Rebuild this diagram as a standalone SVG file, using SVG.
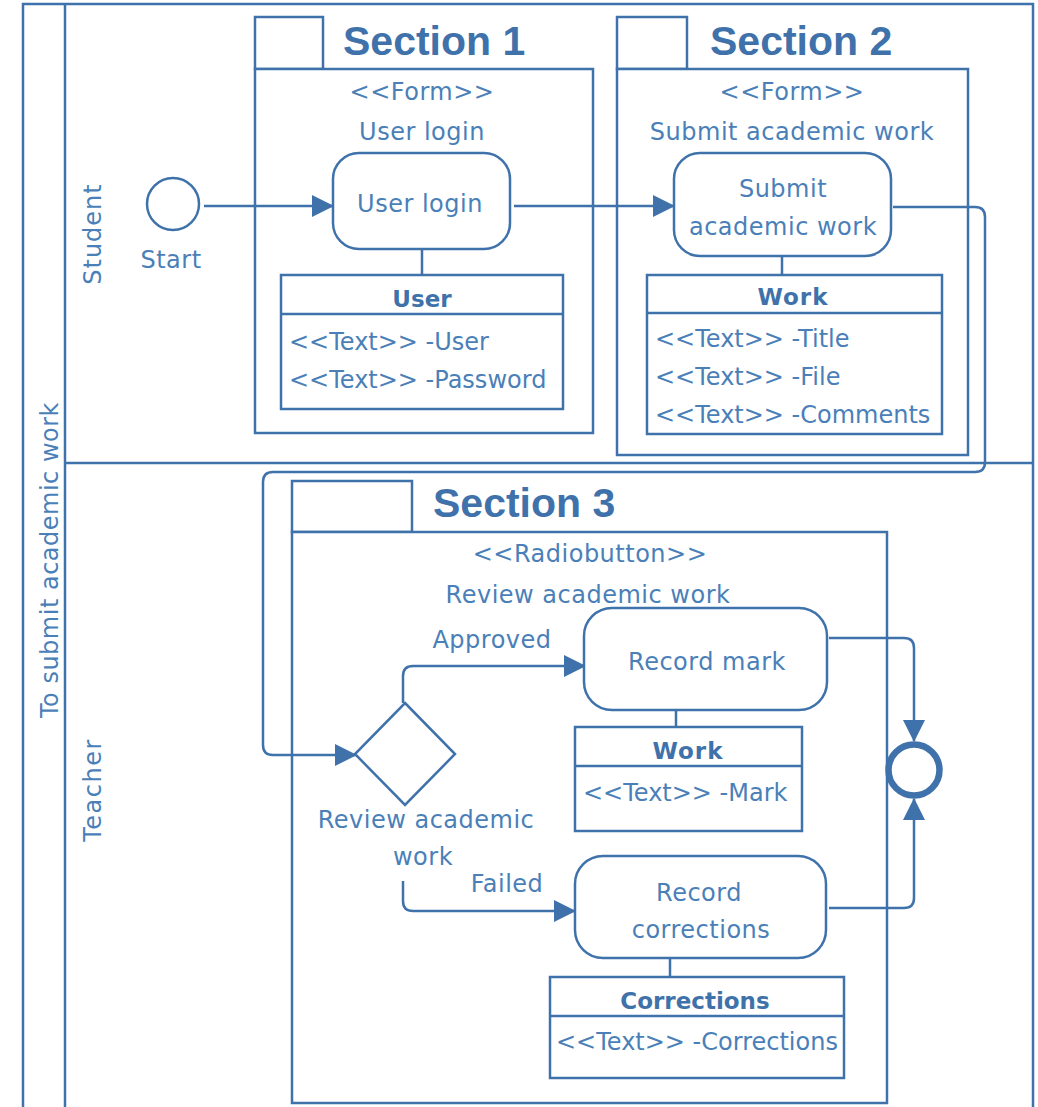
<svg xmlns="http://www.w3.org/2000/svg" width="1038" height="1107" viewBox="0 0 1038 1107">
<style>
.ln{fill:none;stroke:#3f72aa;stroke-width:2.5}
.box{fill:#fff;stroke:#3f72aa;stroke-width:2.5}
.t{font-family:"DejaVu Sans",sans-serif;font-size:24px;fill:#4a7fb8;letter-spacing:0.5px}
.tc{text-anchor:middle}
.a{letter-spacing:0px}
.b{font-family:"DejaVu Sans",sans-serif;font-size:23px;font-weight:bold;fill:#3f72aa;text-anchor:middle}
.title{font-family:"Liberation Sans",Arial,sans-serif;font-size:41px;font-weight:bold;fill:#3f72aa}
</style>
<defs>
<marker id="arr" markerUnits="userSpaceOnUse" markerWidth="22" markerHeight="22" refX="21" refY="11" orient="auto">
<path d="M0,0 L22,11 L0,22 z" fill="#3f72aa"/>
</marker>
</defs>
<rect width="1038" height="1107" fill="#fff"/>
<g id="pool">
<path class="ln" d="M23,1107 V4 H1033 V1107"/>
<line class="ln" x1="65" y1="4" x2="65" y2="1107"/>
<line class="ln" x1="65" y1="463" x2="1033" y2="463"/>
<text class="t tc" transform="translate(58,560) rotate(-90)">To submit academic work</text>
<text class="t tc" transform="translate(101,234) rotate(-90)" style="letter-spacing:1px">Student</text>
<text class="t tc" transform="translate(101,790) rotate(-90)" style="letter-spacing:1.5px">Teacher</text>
</g>
<g id="section1">
<rect class="box" x="255" y="17" width="68" height="52"/>
<rect class="box" x="255" y="69" width="338" height="364"/>
<text class="title" x="343" y="55">Section 1</text>
<text class="t tc" x="422" y="100">&lt;&lt;Form&gt;&gt;</text>
<text class="t tc" x="422" y="140">User login</text>
</g>
<g id="section2">
<rect class="box" x="617" y="17" width="70" height="52"/>
<rect class="box" x="617" y="69" width="351" height="386"/>
<text class="title" x="710" y="55">Section 2</text>
<text class="t tc" x="792" y="100">&lt;&lt;Form&gt;&gt;</text>
<text class="t tc" x="792" y="140">Submit academic work</text>
</g>
<g id="section3">
<rect class="box" x="292" y="481" width="120" height="51"/>
<rect class="box" x="292" y="532" width="595" height="571"/>
<text class="title" x="433" y="517">Section 3</text>
<text class="t tc" x="590" y="562">&lt;&lt;Radiobutton&gt;&gt;</text>
<text class="t tc" x="588" y="603">Review academic work</text>
</g>
<g id="connectors">
<path class="ln" d="M204,206 H333" marker-end="url(#arr)"/>
<path class="ln" d="M514,206 H674" marker-end="url(#arr)"/>
<path class="ln" d="M893,207 H975 Q985,207 985,217 V462 Q985,472 975,472 H273 Q263,472 263,482 V745 Q263,755 273,755 H356" marker-end="url(#arr)"/>
<path class="ln" d="M403,703 V676 Q403,666 413,666 H585" marker-end="url(#arr)"/>
<path class="ln" d="M403,881 V901 Q403,911 413,911 H575" marker-end="url(#arr)"/>
<path class="ln" d="M829,638 H904 Q914,638 914,648 V741" marker-end="url(#arr)"/>
<path class="ln" d="M829,908 H904 Q914,908 914,898 V799" marker-end="url(#arr)"/>
<line class="ln" x1="422" y1="249" x2="422" y2="275"/>
<line class="ln" x1="782" y1="256" x2="782" y2="275"/>
<line class="ln" x1="676" y1="710" x2="676" y2="727"/>
<line class="ln" x1="670" y1="958" x2="670" y2="977"/>
</g>
<g id="start">
<circle class="box" cx="173" cy="204" r="26"/>
<text class="t tc" x="171" y="268">Start</text>
</g>
<g id="user-login">
<rect class="box" x="333" y="153" width="177" height="96" rx="26"/>
<text class="t tc" x="420" y="212">User login</text>
</g>
<g id="user-class">
<rect class="box" x="281" y="275" width="282" height="134"/>
<line class="ln" x1="281" y1="314" x2="563" y2="314"/>
<text class="b" x="422" y="307">User</text>
<text class="t a" x="289" y="350">&lt;&lt;Text&gt;&gt; -User</text>
<text class="t a" x="289" y="388">&lt;&lt;Text&gt;&gt; -Password</text>
</g>
<g id="submit-work">
<rect class="box" x="674" y="153" width="217" height="103" rx="26"/>
<text class="t tc" x="783" y="197">Submit</text>
<text class="t tc" x="783" y="235">academic work</text>
</g>
<g id="work-class">
<rect class="box" x="647" y="275" width="295" height="159"/>
<line class="ln" x1="647" y1="313" x2="942" y2="313"/>
<text class="b" x="793" y="305" style="letter-spacing:1px">Work</text>
<text class="t a" x="655" y="347">&lt;&lt;Text&gt;&gt; -Title</text>
<text class="t a" x="655" y="385">&lt;&lt;Text&gt;&gt; -File</text>
<text class="t a" x="655" y="423">&lt;&lt;Text&gt;&gt; -Comments</text>
</g>
<g id="review-decision">
<path class="box" d="M405,703 L455,754 L405,805 L355,754 z"/>
<text class="t tc" x="426" y="828">Review academic</text>
<text class="t tc" x="423" y="865">work</text>
<text class="t tc" x="492" y="648">Approved</text>
<text class="t tc" x="507" y="892">Failed</text>
</g>
<g id="record-mark">
<rect class="box" x="584" y="608" width="243" height="102" rx="28"/>
<text class="t tc" x="707" y="670">Record mark</text>
</g>
<g id="work-mark-class">
<rect class="box" x="575" y="727" width="227" height="104"/>
<line class="ln" x1="575" y1="766" x2="802" y2="766"/>
<text class="b" x="688" y="759" style="letter-spacing:1px">Work</text>
<text class="t a" x="583" y="801">&lt;&lt;Text&gt;&gt; -Mark</text>
</g>
<g id="record-corrections">
<rect class="box" x="575" y="856" width="251" height="102" rx="28"/>
<text class="t tc" x="699" y="901">Record</text>
<text class="t tc" x="701" y="938">corrections</text>
</g>
<g id="corrections-class">
<rect class="box" x="550" y="977" width="294" height="101"/>
<line class="ln" x1="550" y1="1016" x2="844" y2="1016"/>
<text class="b" x="695" y="1009">Corrections</text>
<text class="t a" x="556" y="1050">&lt;&lt;Text&gt;&gt; -Corrections</text>
</g>
<g id="end">
<circle cx="914" cy="770" r="25.5" fill="#fff" stroke="#3f72aa" stroke-width="6.5"/>
</g>
</svg>
